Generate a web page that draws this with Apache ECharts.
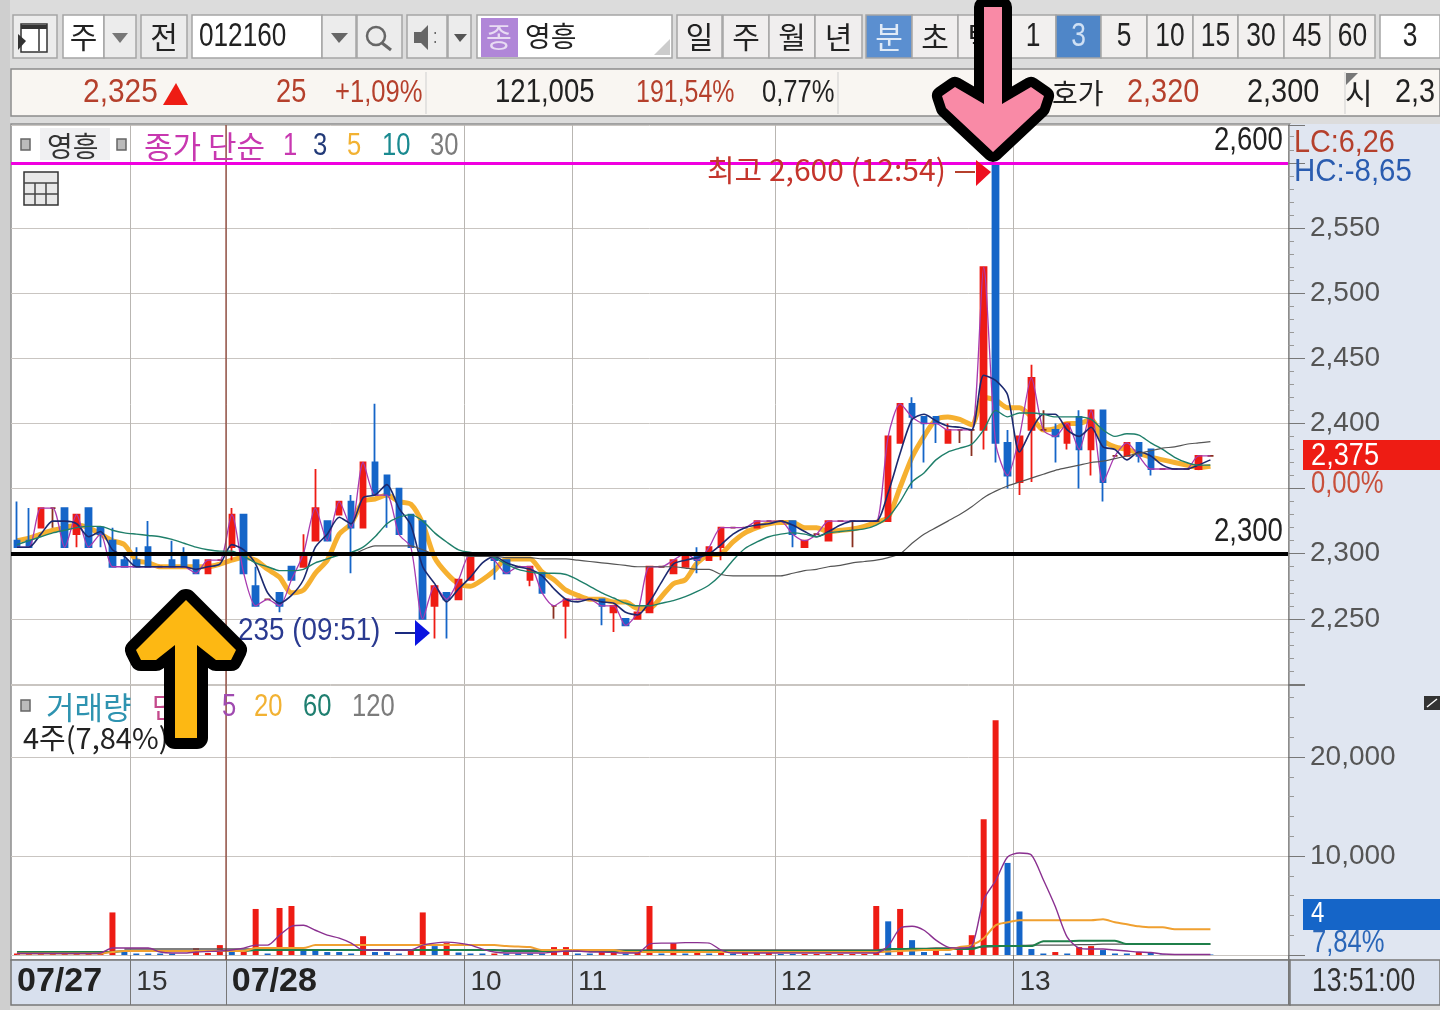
<!DOCTYPE html>
<html><head><meta charset="utf-8">
<style>html,body{margin:0;padding:0;background:#e4e4e4}#c{width:1440px;height:1010px}</style>
<script src="https://cdn.jsdelivr.net/npm/echarts@6/dist/echarts.min.js"></script>
</head><body><div id="c"></div>
<script>
const opens=[2310,2310,2320,2335,2335,2315,2335,2320,2310,2295,2295,2305,2290,2295,2300,2295,2285,2295,2305,2330,2275,2265,2270,2290,2290,2310,2325,2330,2340,2320,2370,2360,2350,2330,2325,2260,2270,2265,2280,2300,2300,2295,2290,2280,2285,2260,2260,2265,2265,2265,2255,2250,2250,2255,2290,2285,2290,2300,2295,2305,2320,2320,2320,2325,2325,2325,2305,2315,2310,2325,2325,2325,2325,2325,2385,2415,2405,2405,2385,2395,2395,2395,2600,2385,2355,2395,2395,2395,2385,2405,2380,2410,2375,2375,2385,2380,2365,2365,2365,2365,2375];
const closes=[2305,2305,2335,2335,2305,2330,2305,2315,2290,2290,2290,2290,2290,2290,2290,2285,2295,2295,2330,2285,2260,2265,2260,2280,2300,2335,2310,2340,2320,2370,2345,2345,2315,2305,2250,2275,2265,2280,2300,2300,2295,2285,2290,2290,2270,2260,2265,2265,2265,2260,2260,2245,2255,2290,2290,2295,2300,2295,2305,2320,2320,2320,2325,2325,2325,2315,2310,2315,2325,2325,2325,2325,2325,2390,2415,2405,2400,2400,2395,2395,2395,2520,2385,2360,2390,2435,2395,2390,2400,2380,2410,2355,2375,2385,2375,2365,2365,2365,2365,2375,2375];
const lows=[2305,2305,2320,2320,2305,2305,2305,2305,2290,2290,2290,2290,2290,2290,2290,2285,2285,2295,2295,2285,2260,2265,2255,2280,2290,2310,2310,2330,2285,2320,2345,2320,2315,2305,2250,2235,2235,2265,2280,2300,2280,2285,2290,2275,2270,2250,2235,2265,2265,2245,2240,2245,2250,2255,2290,2285,2290,2285,2295,2295,2320,2320,2320,2325,2325,2305,2305,2315,2310,2325,2305,2325,2325,2325,2385,2350,2370,2385,2385,2385,2375,2380,2370,2350,2345,2355,2395,2370,2380,2350,2360,2340,2375,2375,2370,2360,2365,2365,2365,2365,2375];
const highs=[2340,2335,2335,2335,2335,2330,2335,2320,2320,2300,2305,2325,2290,2310,2305,2295,2295,2295,2335,2330,2290,2265,2270,2290,2315,2365,2325,2340,2345,2370,2415,2360,2350,2330,2325,2275,2270,2280,2300,2300,2300,2295,2290,2290,2285,2260,2265,2265,2265,2265,2260,2250,2255,2290,2290,2295,2300,2305,2305,2320,2320,2320,2325,2325,2325,2325,2310,2315,2325,2325,2325,2325,2325,2390,2415,2420,2405,2405,2400,2395,2395,2520,2600,2395,2390,2445,2410,2400,2400,2410,2410,2410,2375,2385,2385,2380,2365,2365,2365,2375,2375];
const ma3=[2305,2305,2315,2325,2325,2323,2313,2317,2303,2298,2290,2290,2290,2290,2290,2288,2290,2292,2307,2303,2292,2270,2262,2268,2280,2305,2315,2328,2323,2343,2345,2353,2335,2322,2290,2277,2263,2273,2282,2293,2298,2293,2290,2288,2283,2273,2265,2263,2265,2263,2262,2255,2253,2263,2278,2292,2295,2297,2300,2307,2315,2320,2322,2323,2325,2322,2317,2313,2317,2322,2325,2325,2325,2347,2377,2403,2407,2402,2398,2397,2395,2437,2433,2422,2378,2395,2407,2407,2395,2390,2397,2382,2380,2372,2378,2375,2368,2365,2365,2368,2372];
const ma5=[2310,2312,2315,2318,2320,2322,2320,2315,2310,2307,2295,2293,2290,2290,2290,2290,2290,2292,2295,2297,2295,2288,2282,2270,2272,2285,2295,2315,2323,2340,2342,2345,2340,2338,2323,2297,2285,2277,2275,2280,2287,2296,2296,2296,2286,2280,2272,2268,2265,2265,2263,2263,2258,2258,2267,2277,2280,2293,2299,2300,2309,2316,2320,2323,2324,2324,2320,2320,2317,2318,2319,2321,2324,2328,2351,2374,2390,2403,2405,2403,2399,2420,2418,2412,2412,2405,2395,2396,2400,2400,2403,2387,2382,2380,2377,2374,2372,2370,2368,2366,2367];
const ma10=[2307,2310,2313,2316,2318,2320,2321,2321,2318,2316,2315,2314,2313,2311,2308,2305,2303,2302,2302,2298,2293,2290,2287,2287,2288,2293,2296,2299,2301,2305,2313,2323,2328,2330,2325,2316,2309,2303,2301,2300,2297,2292,2288,2286,2285,2285,2284,2280,2275,2270,2266,2262,2260,2260,2262,2264,2267,2271,2276,2284,2295,2304,2309,2313,2315,2316,2315,2313,2316,2317,2318,2319,2322,2328,2340,2355,2362,2372,2378,2381,2384,2395,2410,2405,2408,2408,2407,2405,2405,2405,2403,2395,2390,2392,2391,2385,2380,2374,2370,2368,2368];
const ma30=[null,null,null,null,null,null,null,null,null,null,null,null,null,null,null,null,null,null,null,null,null,null,null,null,null,null,null,null,2298,2303,2306,2306,2306,2306,2303,2300,2300,2299,2298,2298,2298,2297,2297,2297,2296,2296,2296,2295,2294,2293,2292,2291,2290,2290,2290,2290,2289,2288,2288,2284,2283,2283,2283,2283,2283,2285,2287,2288,2290,2291,2293,2294,2295,2297,2300,2308,2315,2320,2325,2330,2336,2343,2348,2352,2355,2358,2361,2364,2366,2368,2370,2371,2373,2375,2377,2379,2381,2382,2384,2385,2386];
const volUp=[150,150,150,150,150,150,150,150,4300,null,null,null,null,null,null,700,200,1000,null,350,4650,null,4750,4950,null,null,null,null,null,1900,null,null,null,600,4300,null,1200,null,null,null,150,null,null,null,null,800,800,null,null,300,300,null,400,4950,null,1200,null,250,null,300,null,200,200,200,null,null,100,100,100,100,100,100,4950,null,4650,null,null,500,null,500,2000,13700,23700,null,null,null,null,300,null,800,900,null,null,null,300,null,null,null,null,null,null];
const volDown=[null,null,null,null,null,null,null,null,null,350,150,150,150,150,null,null,null,null,400,null,null,150,null,null,600,600,300,300,150,null,300,300,150,null,null,900,null,250,150,150,null,150,150,150,150,null,null,150,150,null,null,150,null,null,150,null,150,null,150,null,150,null,null,null,100,100,null,null,null,null,null,null,null,3400,null,1500,300,null,150,null,null,null,null,9300,4400,600,150,null,150,null,null,500,150,150,null,200,50,50,50,50,50];
const volMa5=[150,150,150,150,150,150,150,200,700,700,700,700,300,200,200,300,350,400,500,700,1000,1000,2000,2900,3000,2500,2000,1700,1200,500,500,500,500,500,1000,1200,1300,1200,1000,600,300,200,200,200,200,300,400,400,300,300,250,200,200,1100,1200,1200,1250,1250,1200,500,200,200,200,200,200,200,200,200,200,200,200,200,200,900,2700,2900,2500,1500,800,700,900,5600,7500,9900,10300,10100,7600,4900,1800,700,600,600,500,400,300,250,100,50,50,50,50];
const volMa20=[150,150,150,150,150,150,150,150,300,400,400,400,400,400,400,400,400,400,400,400,700,700,700,700,700,1000,1000,1000,1000,1000,1000,1000,1000,1000,1000,1000,1000,1000,1000,1000,1000,900,850,800,500,500,500,500,500,500,500,300,300,300,300,300,300,300,300,300,300,300,300,300,300,300,300,300,300,300,300,300,300,350,400,450,500,500,500,800,1000,1700,3000,3300,3500,3500,3500,3500,3500,3500,3500,3600,3300,3100,2900,2800,2800,2600,2600,2600,2600];
const volMa60=[300,300,300,300,300,300,300,300,300,400,400,400,400,400,400,400,400,400,400,400,500,500,500,500,500,500,500,500,500,500,500,500,500,500,500,500,500,500,500,500,500,400,400,400,400,400,400,400,400,400,400,400,400,400,400,400,400,400,400,400,400,400,400,400,400,400,400,400,400,400,400,400,400,600,600,600,600,600,600,600,600,900,900,900,900,900,1400,1400,1400,1450,1450,1450,1450,1100,1100,1100,1100,1100,1100,1100,1100];
const volMa120=[null,null,null,null,null,null,null,null,null,600,600,600,600,600,600,600,600,600,600,600,600,500,500,500,500,500,500,500,500,500,500,500,500,500,500,500,500,500,500,500,500,500,500,500,500,500,500,500,500,500,500,500,500,500,500,500,500,500,500,500,500,500,500,500,500,500,500,500,500,500,500,500,500,600,600,650,650,700,700,700,750,800,850,900,950,1000,1000,1000,1000,1050,1050,1100,1100,1100,1100,1100,1100,1100,1100,1100,1100];
const categories=Array.from({length:107},(_,i)=>'b'+i);
const dateTicks={0:'07/27',10:'15',18:'07/28',38:'10',47:'11',64:'12',84:'13'};
const boundaryIdx=[10,18,38,47,64,84];
const FN='"Liberation Sans",sans-serif', FK='"Noto Sans CJK KR",sans-serif';
const RED='#ee1c14',BLUE='#1565c8';
const fmt=v=>String(v).replace(/\B(?=(\d{3})+$)/g,',');
const el=[];
const R=(x,y,w,h,fill,stroke,z)=>el.push({type:'rect',shape:{x,y,width:w,height:h},style:{fill,stroke:stroke||null,lineWidth:stroke?1.5:0},z:z===undefined?-5:z,silent:true});
const T=(s,x,y,size,color,o)=>{o=o||{};const f=o.f||FN;const sx=o.sx!==undefined?o.sx:(f===FN?0.8:1);const sy=o.sy||1;
  el.push({type:'text',x,y,scaleX:sx,scaleY:sy,style:{text:s,font:(o.w||'normal')+' '+size+'px '+f,fill:color,textVerticalAlign:'middle',textAlign:o.a||'left',textBaseline:'middle'},z:o.z!==undefined?o.z:50,silent:true});};
const P=(pts,fill,stroke,lw,z)=>el.push({type:'polygon',shape:{points:pts},style:{fill,stroke:stroke||null,lineWidth:lw||0,lineJoin:'round'},z:z===undefined?50:z,silent:true});
const L=(x1,y1,x2,y2,c,lw,z)=>el.push({type:'line',shape:{x1,y1,x2,y2},style:{stroke:c,lineWidth:lw||1},z:z===undefined?50:z,silent:true});

// frame
R(0,0,1440,1010,'#dcdcdc',null,-20);
R(0,0,10,1010,'#cfcfcf',null,-19);
R(11,124,1279,836,'#ffffff','#8c8c8c',-10);
R(1290,124,150,836,'#e0e6f1',null,-9);
R(11,960,1279,45,'#d8e0ee','#777777',-9);
R(1290,960,150,45,'#d8e0ee','#777777',-9);
// toolbar
const btn=(x,w,fill,s,col,size,f)=>{R(x,15,w,43,fill,'#a5a5a5',-4);if(s)T(s,x+w/2,37,size||32,col||'#222',{a:'center',f:f||FN});};
btn(13,44,'#ececec');
R(21,24,26,28,'#fff','#333',-3);P([[18,34],[26,41],[18,50]],'#333');L(21,27,47,27,'#333',4);L(39,27,39,51,'#333',1.5);
btn(63,41,'#fff','주','#222',30,FK);btn(104,32,'#ececec');P([[112,33],[128,33],[120,43]],'#777');
btn(141,46,'#ececec','전','#222',30,FK);
btn(192,130,'#fff');T('012160',199,37,34,'#222',{sx:0.77});btn(322,34,'#ececec');P([[331,33],[348,33],[339,43]],'#666');
btn(357,45,'#ececec');el.push({type:'circle',shape:{cx:376,cy:36,r:9},style:{fill:null,stroke:'#666',lineWidth:2.5},z:50});L(382,43,391,50,'#666',3);
btn(407,40,'#ececec');P([[414,32],[421,32],[428,25],[428,50],[421,43],[414,43]],'#666');T(':',433,37,20,'#666');
btn(448,23,'#ececec');P([[454,34],[467,34],[460,42]],'#555');
btn(477,195,'#fff');R(481,18,37,39,'#b086d8',null,-3);T('종',499,37,28,'#e8dcf3',{a:'center',f:FK});T('영흥',525,36,28,'#222',{f:FK});P([[654,55],[670,39],[670,55]],'#ccc');
[['일',677,45],['주',723,46],['월',769,46],['년',815,47]].forEach(b=>btn(b[1],b[2],'#f0eeee',b[0],'#222',30,FK));
btn(866,46,'#5b8fd0','분','#dfeaf7',30,FK);btn(912,46,'#f0eeee','초','#222',30,FK);btn(958,46,'#f0eeee','틱','#222',30,FK);
[['1',1010,46],['3',1056,45],['5',1101,46],['10',1147,46],['15',1193,45],['30',1238,46],['45',1284,46],['60',1330,45]].forEach(b=>btn(b[1],b[2],b[0]==='3'?'#4f86c8':'#f2f0ef',b[0],b[0]==='3'?'#cfe0f4':'#222',33));
btn(1380,60,'#fff','3','#222',33);
// info strip
R(11,69,1429,47,'#f9f6f2','#8c8c8c',-4);L(426,72,426,114,'#cfcfcf',1,-3);L(838,72,838,114,'#cfcfcf',1,-3);L(1345,72,1345,114,'#cfcfcf',1,-3);
T('2,325',83,93,34,'#b5402c',{sx:0.88});P([[176,83],[188,105],[163,105]],'#ee1c14');
T('25',276,93,34,'#b5402c');T('+1,09%',335,93,32,'#b5402c');
T('121,005',495,93,34,'#222',{sx:0.81});T('191,54%',636,93,32,'#b5402c',{sx:0.78});T('0,77%',762,93,32,'#222');
T('호가',1052,93,28,'#222',{f:FK});T('2,320',1127,93,34,'#b5402c',{sx:0.85});T('2,300',1247,93,34,'#222',{sx:0.85});T('시',1345,93,30,'#222',{f:FK});P([[1346,73],[1358,73],[1346,85]],'#777');T('2,3',1395,93,34,'#222',{sx:0.85});
// chart legends
R(21,139,9,11,'#bbb','#666',40);R(40,128,70,32,'#f0f0f2',null,-2);T('영흥',47,146,28,'#333',{f:FK});R(117,139,9,11,'#bbb','#666',40);
T('종가 단순',144,146,31,'#c838b0',{f:FK});T('1',283,146,32,'#c838b0');T('3',313,146,32,'#223a78');T('5',347,146,32,'#f2b233');T('10',382,146,32,'#1a8a90');T('30',430,146,32,'#7c7c7c');
T('최고 2,600 (12:54)',707,170,30,'#c4352c',{f:FK});L(955,172,975,172,'#b5402c',2,60);P([[976,160],[991,172],[976,186]],'#ee1020',null,0,60);
T('235 (09:51)',238,631,32,'#2a3a90',{sx:0.87});L(395,633,416,633,'#1a2a80',2,60);P([[415,620],[430,633],[415,646]],'#0a14e0',null,0,60);
R(24,172,34,33,'#e8e8e8','#333',30);[[24,183,58,183],[35,183,35,205],[46,183,46,205],[24,194,58,194]].forEach(a=>L(a[0],a[1],a[2],a[3],'#444',1.5,31));
T('2,600',1214,141,34,'#222',{sx:0.81});T('2,300',1214,532,34,'#222',{sx:0.81});
T('LC:6,26',1294,143,32,'#b5402c',{sx:0.9});T('HC:-8,65',1294,172,32,'#2a5cb0',{sx:0.92});
R(1303,440,137,30,'#ee1c14',null,30);T('2,375',1311,456,32,'#fff',{sx:0.85});T('0,00%',1311,484,32,'#c8503c');
R(1303,899,137,31,'#1565c8',null,30);T('4',1311,914,30,'#fff');T('7,84%',1312,943,32,'#2a66b8');
R(1424,696,16,14,'#333',null,30);L(1427,707,1437,699,'#fff',1.5,31);
T('거래량',46,707,31,'#2e93b0',{f:FK});T('단',152,707,28,'#c44a8c',{f:FK});T('5',222,707,32,'#a04ab0');T('20',254,707,32,'#f2b233');T('60',303,707,32,'#1f7f70');T('120',352,707,32,'#7c7c7c');
R(21,700,9,11,'#bbb','#666',40);T('4주(7,84%)',23,738,29,'#222',{f:FK});
T('13:51:00',1312,982,34,'#333',{sx:0.78});
L(226,125,226,960,'#8a3a2a',1.2,6);
// arrows
const yA=[[186,600],[236,650],[231,660],[216,660],[197,645],[197,738],[175,738],[175,645],[156,660],[141,660],[136,650]];
P(yA,'#000','#000',22,80);P(yA,'#fdb813',null,0,81);
const pA=[[984,7],[1002,7],[1002,104],[1031,87],[1044,96],[1040,108],[993,152],[946,108],[942,96],[955,87],[984,104]];
P(pA,'#000','#000',20,80);P(pA,'#f98aa6',null,0,81);

const candleData=opens.map((o,i)=>[o,closes[i],lows[i],highs[i]]);
const lineS=(name,data,color,w,z,xi,yi)=>({name,type:'line',data,xAxisIndex:xi,yAxisIndex:yi,showSymbol:false,symbol:'none',smooth:0.25,connectNulls:false,z,lineStyle:{color,width:w},silent:true});
const xa=(i,extra)=>Object.assign({type:'category',gridIndex:i,data:categories,boundaryGap:true,axisLine:{show:false},axisTick:{show:false},axisLabel:{show:false},
  splitLine:{show:true,interval:(k)=>boundaryIdx.includes(k),lineStyle:{color:'#b9b6b2',width:1}}},extra);
const ya=(i,min,max,interval,hide)=>({type:'value',gridIndex:i,position:'right',min,max,interval,scale:false,
  axisLine:{show:true,lineStyle:{color:'#8c8c8c'}},axisTick:{show:true,length:17,lineStyle:{color:'#777'}},
  minorTick:{show:true,splitNumber:5,length:6,lineStyle:{color:'#999'}},minorSplitLine:{show:false},
  splitLine:{show:true,lineStyle:{color:'#c9c5c1',width:1}},
  axisLabel:{show:true,margin:22,showMaxLabel:false,color:'#555',fontFamily:FN,fontSize:28,formatter:v=>(hide.includes(v)||v%interval)?'':fmt(v)}});
const chart=echarts.init(document.getElementById('c'),null,{renderer:'canvas'});
chart.setOption({animation:false,backgroundColor:'transparent',
 grid:[{left:11,top:125,width:1277,height:559,containLabel:false},{left:11,top:685,width:1277,height:270,containLabel:false}],
 xAxis:[xa(0),xa(1,{axisTick:{show:true,interval:(k)=>boundaryIdx.includes(k),length:50,lineStyle:{color:'#777'}},
   axisLabel:{show:true,interval:0,align:'left',margin:10,color:'#333',fontFamily:FN,fontSize:28,lineHeight:34,formatter:(v,i)=>dateTicks[i]===undefined?'':(dateTicks[i].includes('/')?'{b|'+dateTicks[i]+'}':'{n|'+dateTicks[i]+'}'),rich:{b:{fontFamily:FN,fontSize:34,lineHeight:34,fontWeight:'bold',color:'#222'},n:{fontFamily:FN,fontSize:28,lineHeight:34,color:'#333'}}}})],
 yAxis:[ya(0,2200,2629,50,[2200,2350,2600]),ya(1,0,27272,10000,[0])],
 graphic:{elements:el},
 series:[
  lineS('MA5',ma5,'#f6b030',5,3,0,0),
  {name:'price',type:'candlestick',data:candleData,xAxisIndex:0,yAxisIndex:0,barWidth:6,z:4,silent:true,
   itemStyle:{color:RED,color0:BLUE,borderColor:RED,borderColor0:BLUE,borderColorDoji:'#8a3020',borderWidth:1.8},
   markLine:{silent:true,symbol:'none',label:{show:false},z:10,animation:false,data:[
     {yAxis:2600,lineStyle:{color:'#f000e0',width:3,type:'solid'}},
     {yAxis:2300,lineStyle:{color:'#000',width:4,type:'solid'}}]}},
  lineS('MA1',closes,'#a83ab0',1.3,5,0,0),
  lineS('MA3',ma3,'#1c2a70',1.6,5,0,0),
  lineS('MA10',ma10,'#1f7f6a',1.4,5,0,0),
  lineS('MA30',ma30,'#555555',1.2,5,0,0),
  {name:'volUp',type:'bar',data:volUp,xAxisIndex:1,yAxisIndex:1,stack:'v',barWidth:6,itemStyle:{color:RED},z:3,silent:true},
  {name:'volDown',type:'bar',data:volDown,xAxisIndex:1,yAxisIndex:1,stack:'v',barWidth:6,itemStyle:{color:BLUE},z:3,silent:true},
  lineS('V120',volMa120,'#555555',1.4,4,1,1),
  lineS('V60',volMa60,'#1f7f4a',2,4,1,1),
  lineS('V20',volMa20,'#f0a030',2,4,1,1),
  lineS('V5',volMa5,'#8a3090',1.4,5,1,1)
 ]});
</script></body></html>
